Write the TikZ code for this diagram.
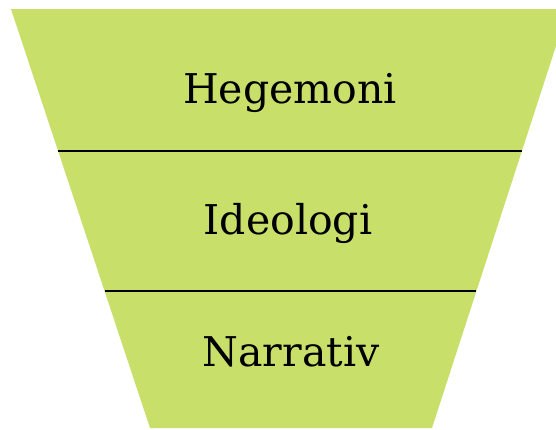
\documentclass[tikz,border=0pt]{standalone}
\usepackage{fontspec}
\setmainfont{DejaVu Serif}
\usetikzlibrary{calc}
\definecolor{funnelgreen}{HTML}{C8DF6A}

\begin{document}
\begin{tikzpicture}[x=1pt,y=-1pt,
  level/.style={anchor=base, font=\fontsize{41}{49}\selectfont, text=black}]
  \useasboundingbox (0,0) rectangle (556,429);
  \clip (0,0) rectangle (556,429);
  \coordinate (tl) at (11,9);
  \coordinate (tr) at (568,9);
  \coordinate (br) at (432,428);
  \coordinate (bl) at (150,428);
  \fill[funnelgreen] (tl) -- (tr) -- (br) -- (bl) -- cycle;
  \draw[line width=2pt] ($(tl)!0.339!(bl)$) -- ($(tr)!0.339!(br)$);
  \draw[line width=2pt] ($(tl)!0.673!(bl)$) -- ($(tr)!0.673!(br)$);
  \node[level] (hegemoni) at (290,103) {Hegemoni};
  \node[level] (ideologi) at (288,234) {Ideologi};
  \node[level] (narrativ) at (291,366) {Narrativ};
\end{tikzpicture}
\end{document}
